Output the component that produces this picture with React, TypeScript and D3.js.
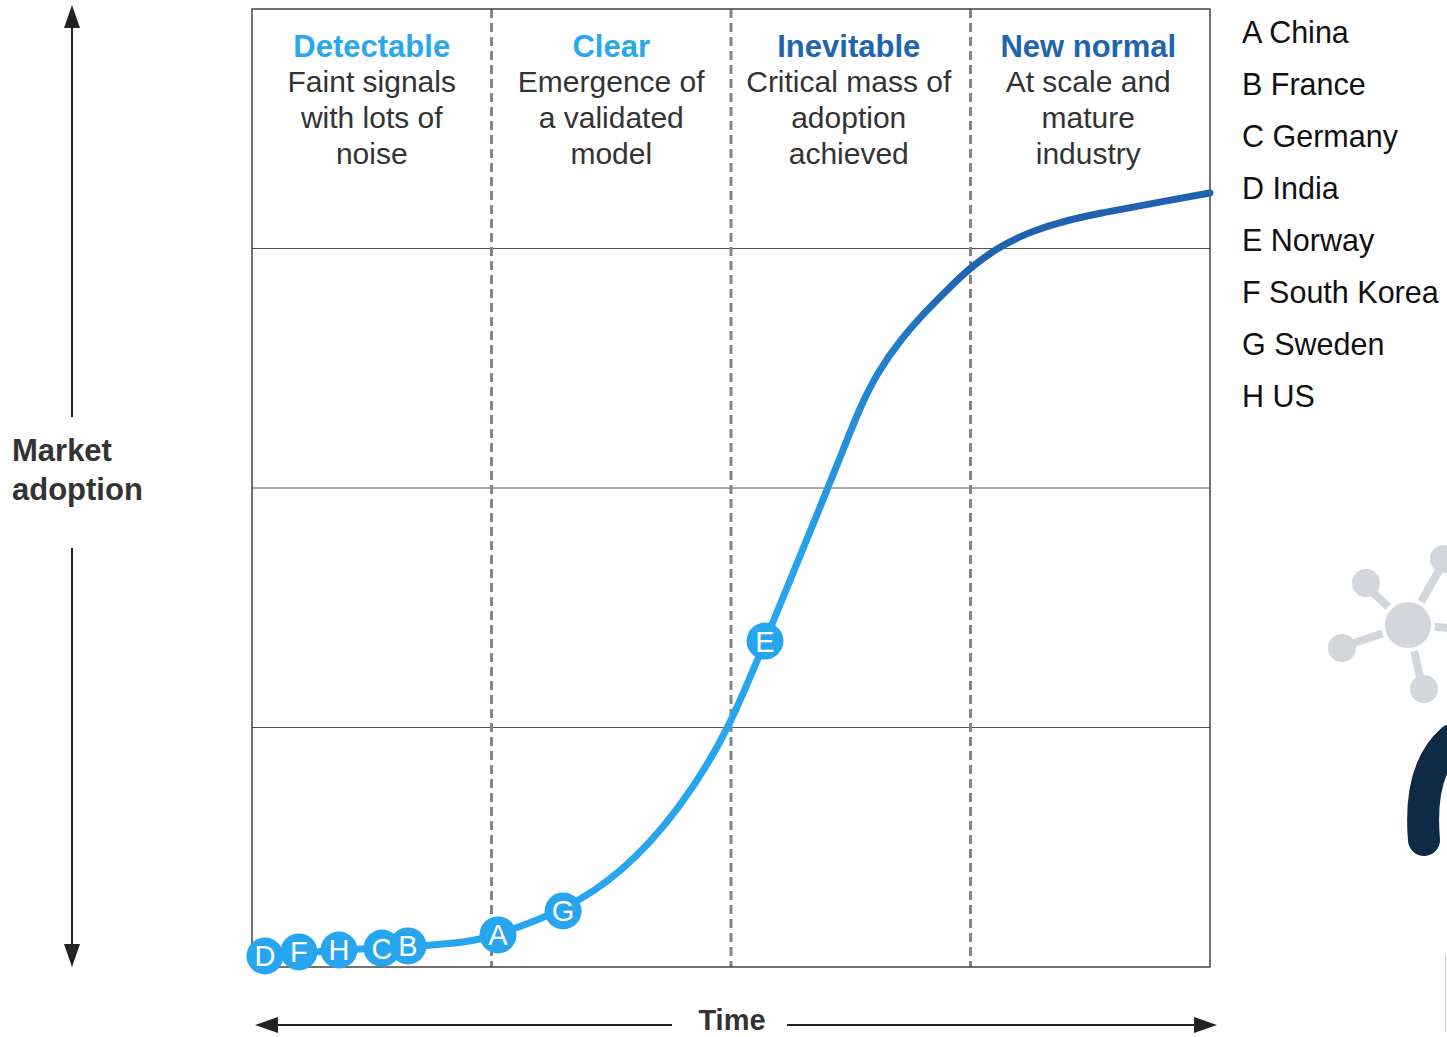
import React from 'react';
import * as d3 from 'd3';

// phases across the top of the grid
const phases = ['Detectable', 'Clear', 'Inevitable', 'New normal'];
const phaseNotes = [
  ['Faint signals', 'with lots of', 'noise'],
  ['Emergence of', 'a validated', 'model'],
  ['Critical mass of', 'adoption', 'achieved'],
  ['At scale and', 'mature', 'industry'],
];
const phaseColors = ['#29a8ec', '#29a8ec', '#1f64b1', '#1f64b1'];

// adoption S-curve (grid units: 4 columns x 4 rows)
const curveX = [0, 0.054, 0.196, 0.363, 0.543, 0.651, 0.91, 1.027, 1.299, 1.537, 1.787, 1.996, 2.142, 2.405, 2.468, 2.539, 2.61, 2.706, 2.818, 2.914, 2.998, 3.111, 3.236, 3.374, 3.541, 3.749, 4.0];
const curveY = [0.038, 0.046, 0.058, 0.071, 0.079, 0.084, 0.104, 0.134, 0.234, 0.384, 0.656, 0.998, 1.361, 2.0, 2.159, 2.338, 2.48, 2.618, 2.743, 2.839, 2.919, 3.002, 3.065, 3.111, 3.148, 3.186, 3.232];

// country markers on the curve
const markerLabels = ['D', 'F', 'H', 'C', 'B', 'A', 'G', 'E'];
const markerX = [0.054, 0.196, 0.363, 0.543, 0.651, 1.027, 1.299, 2.142];
const markerY = [0.046, 0.063, 0.071, 0.079, 0.088, 0.134, 0.234, 1.361];

const legendItems = ['A China', 'B France', 'C Germany', 'D India', 'E Norway', 'F South Korea', 'G Sweden', 'H US'];

const gridTicks = [1, 2, 3];

const W = 1447;
const H = 1037;
const FONT = '"Liberation Sans", Arial, Helvetica, sans-serif';

export default function App() {
  const x = d3.scaleLinear().domain([0, 4]).range([252, 1210]);
  const y = d3.scaleLinear().domain([0, 4]).range([967, 9]);

  const pts: [number, number][] = curveX.map((v, i) => [v, curveY[i]]);
  const line = d3
    .line<[number, number]>()
    .x(d => x(d[0]))
    .y(d => y(d[1]))
    .curve(d3.curveBasis);

  const colW = x(1) - x(0);

  return (
    <div style={{ position: 'absolute', left: 0, top: 0 }}>
      <svg width={W} height={H} style={{ display: 'block', fontFamily: FONT }}>
        <defs>
          <linearGradient id="adopt" gradientUnits="userSpaceOnUse" x1={790} y1={0} x2={960} y2={0}>
            <stop offset="0" stopColor="#27a6ef" />
            <stop offset="1" stopColor="#1f62b0" />
          </linearGradient>
        </defs>
        <rect width={W} height={H} fill="#fff" />

        {/* horizontal grid */}
        {gridTicks.map(t => (
          <line key={'h' + t} x1={x(0)} x2={x(4)} y1={y(t)} y2={y(t)} stroke="#555" strokeWidth={1} />
        ))}
        {/* phase dividers */}
        {gridTicks.map(t => (
          <line
            key={'v' + t}
            x1={x(t)}
            x2={x(t)}
            y1={y(4)}
            y2={y(0)}
            stroke="#858585"
            strokeWidth={3}
            strokeDasharray="9 5"
          />
        ))}
        <rect x={x(0)} y={y(4)} width={x(4) - x(0)} height={y(0) - y(4)} fill="none" stroke="#444" strokeWidth={1.5} />

        {/* phase headers */}
        {phases.map((p, i) => {
          const cx = x(i) + colW / 2 - (i > 1 ? 2 : 0);
          return (
            <g key={p}>
              <text x={cx} y={57} textAnchor="middle" fontSize={31} fontWeight="bold" fill={phaseColors[i]}>
                {p}
              </text>
              {phaseNotes[i].map((n, j) => (
                <text key={j} x={cx} y={92 + j * 36} textAnchor="middle" fontSize={30} fill="#333">
                  {n}
                </text>
              ))}
            </g>
          );
        })}

        {/* curve */}
        <path d={line(pts) || ''} fill="none" stroke="url(#adopt)" strokeWidth={7} strokeLinecap="round" />

        {/* markers */}
        {markerLabels.map((m, i) => (
          <g key={m} transform={`translate(${x(markerX[i])},${y(markerY[i])})`}>
            <circle r={18.5} fill="#27a6ef" />
            <text y={10.5} textAnchor="middle" fontSize={29} fill="#fff">
              {m}
            </text>
          </g>
        ))}

        {/* legend */}
        {legendItems.map((l, i) => (
          <text key={l} x={1242} y={43 + i * 52} fontSize={30.5} fill="#111">
            {l}
          </text>
        ))}

        {/* y axis arrow */}
        <line x1={72} x2={72} y1={26} y2={417} stroke="#222" strokeWidth={2} />
        <line x1={72} x2={72} y1={548} y2={946} stroke="#222" strokeWidth={2} />
        <polygon points="72,5 64,28 80,28" fill="#222" />
        <polygon points="72,967 64,944 80,944" fill="#222" />
        <text x={12} y={461} fontSize={31} fontWeight="bold" fill="#333">
          Market
        </text>
        <text x={12} y={500} fontSize={31} fontWeight="bold" fill="#333">
          adoption
        </text>

        {/* x axis arrow */}
        <line x1={276} x2={672} y1={1025} y2={1025} stroke="#222" strokeWidth={2} />
        <line x1={787} x2={1196} y1={1025} y2={1025} stroke="#222" strokeWidth={2} />
        <polygon points="255,1025 278,1017 278,1033" fill="#222" />
        <polygon points="1217,1025 1194,1017 1194,1033" fill="#222" />
        <text x={732} y={1030} textAnchor="middle" fontSize={29} fontWeight="bold" fill="#333">
          Time
        </text>

        {/* logo watermark, partly off the edge */}
        <g fill="#d3d7dc" stroke="#d3d7dc">
          <line x1={1408} y1={625} x2={1370} y2={590} strokeWidth={8} />
          <line x1={1408} y1={625} x2={1345} y2={646} strokeWidth={8} />
          <line x1={1408} y1={625} x2={1422} y2={685} strokeWidth={8} />
          <line x1={1408} y1={625} x2={1442} y2={565} strokeWidth={8} />
          <line x1={1408} y1={625} x2={1450} y2={628} strokeWidth={8} />
          <circle cx={1408} cy={625} r={25} stroke="#fff" strokeWidth={4} />
          <circle cx={1366} cy={583} r={14} stroke="none" />
          <circle cx={1342} cy={648} r={14} stroke="none" />
          <circle cx={1424} cy={689} r={14} stroke="none" />
          <circle cx={1444} cy={559} r={14} stroke="none" />
        </g>
        <path d="M1424,840 Q1418,770 1452,740" fill="none" stroke="#0f2a44" strokeWidth={32} strokeLinecap="round" />
        <line x1={1445.5} x2={1445.5} y1={955} y2={1032} stroke="#ccc" strokeWidth={1} />
      </svg>
    </div>
  );
}
